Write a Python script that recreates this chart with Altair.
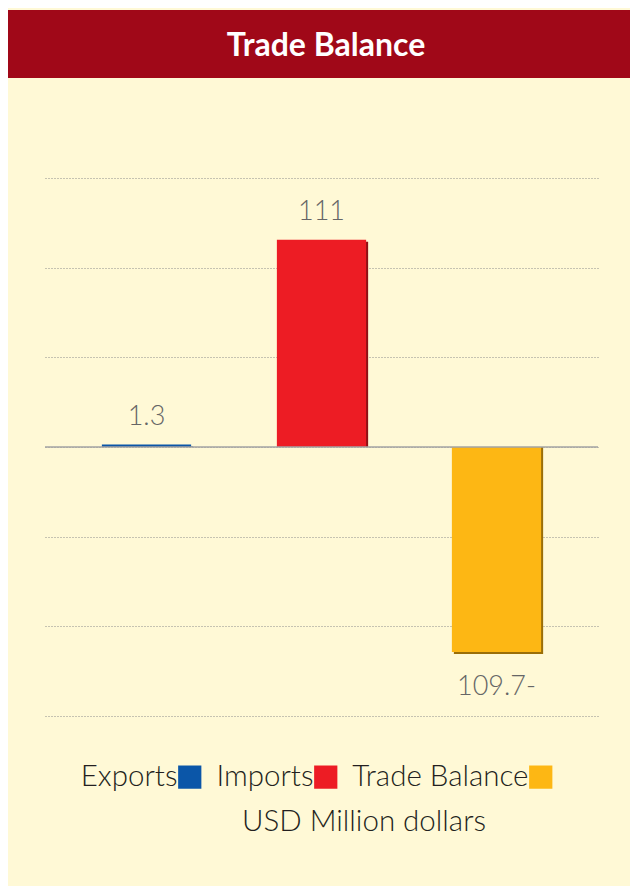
import altair as alt
import pandas as pd

categories = ["Exports", "Imports", "Trade Balance"]
values = [1.3, 111, -109.7]
value_labels = ["1.3", "111", "109.7-"]
colors = ["#0B56A8", "#ED1C24", "#FDB714"]
edge_colors = ["#073A73", "#8E1016", "#9A6E08"]
grid_ticks = [-144, -96, -48, 0, 48, 96, 144]
title_text = "Trade Balance"
unit_text = "USD Million dollars"

df = pd.DataFrame({
    "category": categories,
    "value": values,
    "label": value_labels,
    "edge": edge_colors,
})

CREAM = "#FFF9D6"
BANNER = "#A00818"

x_enc = alt.X("category:N", sort=categories, axis=None,
              scale=alt.Scale(paddingInner=0.49, paddingOuter=0.325))
y_scale = alt.Scale(domain=[grid_ticks[0], grid_ticks[-1]], nice=False, zero=True)
y_enc = alt.Y("value:Q", scale=y_scale,
              axis=alt.Axis(values=grid_ticks, labels=False, ticks=False, domain=False,
                            title=None, grid=True, gridColor="#8C8C8C",
                            gridDash=[1, 2], gridWidth=1))

base = alt.Chart(df)

edge = base.mark_bar(xOffset=2, yOffset=2).encode(
    x=x_enc, y=y_enc, y2=alt.datum(0),
    fill=alt.Fill("edge:N", scale=None, legend=None),
)

bars = base.mark_bar().encode(
    x=x_enc, y=y_enc, y2=alt.datum(0),
    color=alt.Color("category:N", sort=categories,
                    scale=alt.Scale(domain=categories, range=colors),
                    legend=alt.Legend(
                        title=unit_text, orient="none", direction="horizontal",
                        legendX=130, legendY=584,
                        titleOrient="bottom", titleAnchor="middle",
                        titleFont="Lato", titleFontSize=29.5, titleFontWeight=300,
                        titleColor="#231F20", titlePadding=16, titleLimit=600,
                        labelFont="Lato", labelFontSize=29.5, labelFontWeight=300,
                        labelColor="#231F20", labelAlign="right",
                        labelOffset={"expr": "-27"},
                        labelLimit=400,
                        symbolType="square", symbolSize=540, symbolStrokeWidth=0,
                        symbolOpacity=1, columnPadding=14)),
)

zero_rule = alt.Chart(pd.DataFrame({"zero": [0]})).mark_rule(
    color="#A3A3A3", strokeWidth=1.5).encode(y=alt.Y("zero:Q", scale=y_scale))

label_style = dict(font="Lato", fontSize=27, fontWeight=300, color="#666666")
pos_labels = base.transform_filter("datum.value >= 0").mark_text(
    baseline="bottom", dy=-14, **label_style).encode(x=x_enc, y=y_enc, text="label:N")
neg_labels = base.transform_filter("datum.value < 0").mark_text(
    baseline="top", dy=22, **label_style).encode(x=x_enc, y=y_enc, text="label:N")

banner = alt.Chart(pd.DataFrame({"t": [title_text]})).mark_rect(
    color=BANNER, clip=False).encode(
    x=alt.value(-37), x2=alt.value(585), y=alt.value(-168), y2=alt.value(-100))
banner_text = alt.Chart(pd.DataFrame({"t": [title_text]})).mark_text(
    font="Lato", fontSize=32, fontWeight="bold", color="white",
    baseline="middle", align="center", clip=False).encode(
    x=alt.value(281), y=alt.value(-132), text="t:N")

chart = alt.layer(banner, banner_text, edge, bars, zero_rule, pos_labels, neg_labels).properties(
    width=553, height=538,
    padding={"left": 37, "top": 170, "right": 32, "bottom": 170},
    autosize=alt.AutoSizeParams(type="none"),
    background=CREAM,
).configure_view(stroke=None)

chart.save("out.html", embed_options={"renderer": "svg", "actions": False})
